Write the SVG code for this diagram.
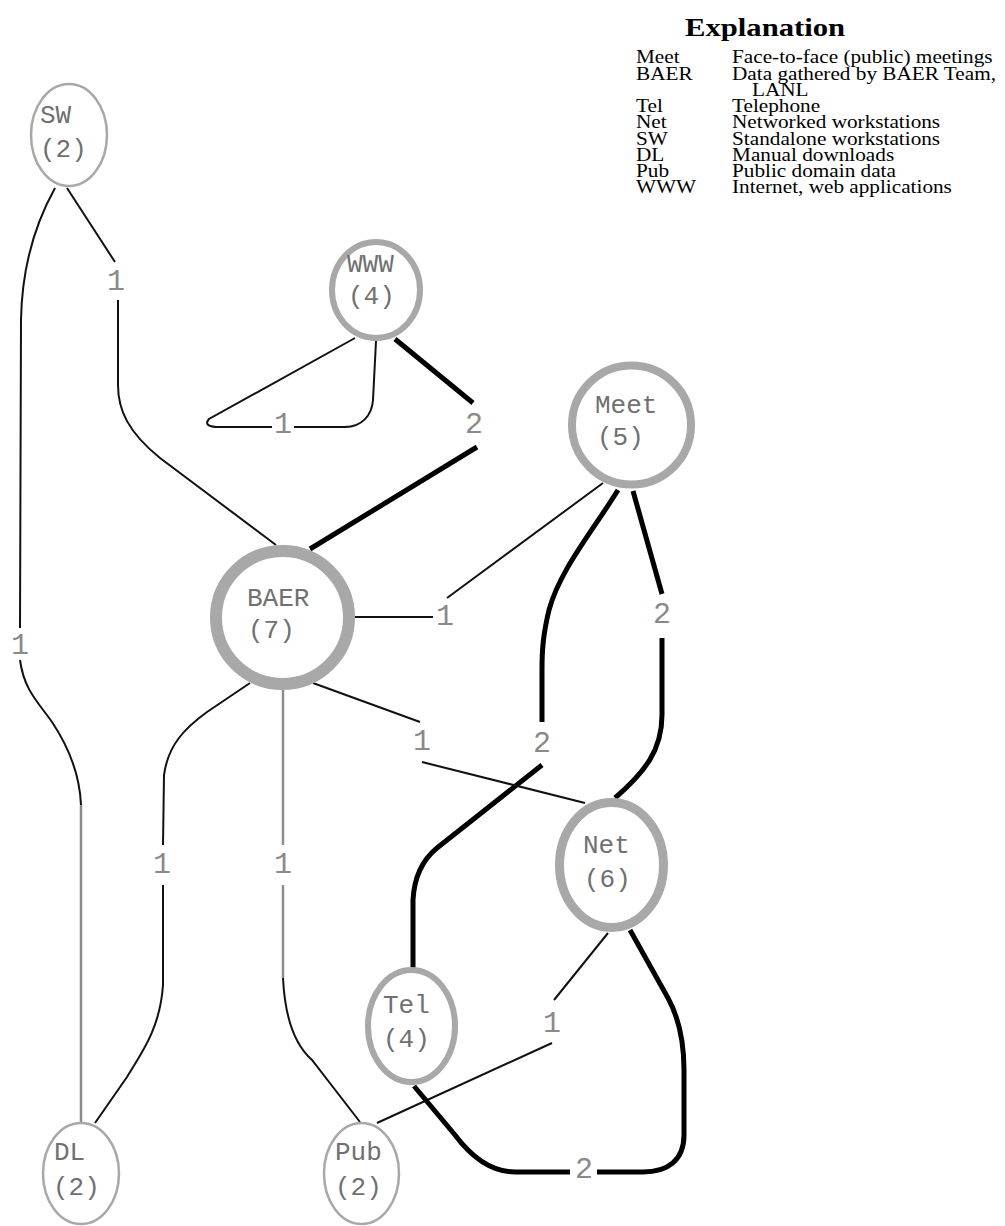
<svg xmlns="http://www.w3.org/2000/svg" width="1005" height="1226" viewBox="0 0 1005 1226">
<style>
.bg{fill:#ffffff}
.node{fill:#ffffff;stroke:#a8a8a8}
.nt{font-family:"Liberation Mono","DejaVu Sans Mono",monospace;font-size:26px;fill:#707070}
.lbl{font-family:"Liberation Mono","DejaVu Sans Mono",monospace;font-size:30px;fill:#8a8a8a;text-anchor:middle}
.e1{fill:none;stroke:#111;stroke-width:2}
.e1g{fill:none;stroke:#8c8c8c;stroke-width:2.5}
.e2{fill:none;stroke:#000;stroke-width:5}
.lg{font-family:"Liberation Serif","Times New Roman",serif;font-size:18px;fill:#000}
.lgt{font-family:"Liberation Serif","Times New Roman",serif;font-size:26px;font-weight:bold;fill:#000}
</style>
<rect class="bg" x="0" y="0" width="1005" height="1226"/>

<g id="connectors">
  <!-- SW - BAER -->
  <path class="e1" d="M67,188 L115,262"/>
  <path class="e1" d="M118,300 L118,385 C118,410 128,432 160,458 L276,545"/>
  <!-- SW - DL -->
  <path class="e1" d="M55,188 C40,215 22,260 21,320 L20,628"/>
  <path class="e1" d="M20,660 C24,690 38,702 52,722 C72,752 80,780 81,805"/>
  <path class="e1g" d="M81,805 L81,1122"/>
  <!-- WWW self loop -->
  <path class="e1" d="M355,338 L209,419 Q203,426 216,427 L272,427"/>
  <path class="e1" d="M294,427 L345,427 C362,427 372,415 373,400 L376,341"/>
  <!-- WWW - BAER -->
  <path class="e2" d="M395,339 L473,403"/>
  <path class="e2" d="M477,447 L310,549"/>
  <!-- Meet - BAER -->
  <path class="e1" d="M355,617 L433,617"/>
  <path class="e1" d="M447,598 L603,483"/>
  <!-- Meet - Net -->
  <path class="e2" d="M633,491 L662,594"/>
  <path class="e2" d="M662,638 L662,715 C662,750 645,772 615,798"/>
  <!-- Meet - Tel -->
  <path class="e2" d="M618,490 C590,535 560,570 549,610 C543,635 542,650 542,670 L542,722"/>
  <path class="e2" d="M542,765 L437,848 C420,862 414,880 413,900 L413,968"/>
  <!-- BAER - Net -->
  <path class="e1" d="M313,683 L420,722"/>
  <path class="e1" d="M422,762 L585,803"/>
  <!-- BAER - DL -->
  <path class="e1" d="M250,683 L207,712 C185,728 168,745 164,775 L163,845"/>
  <path class="e1" d="M163,885 L163,985 C160,1030 140,1055 127,1077 L95,1123"/>
  <!-- BAER - Pub -->
  <path class="e1g" d="M283,690 L283,845"/>
  <path class="e1g" d="M283,885 L283,978"/>
  <path class="e1" d="M283,978 C285,1020 295,1045 312,1060 L360,1122"/>
  <!-- Net - Pub -->
  <path class="e1" d="M608,933 L554,1000"/>
  <path class="e1" d="M552,1043 L377,1123"/>
  <!-- Net - Tel -->
  <path class="e2" d="M630,930 L668,998 C680,1020 684,1045 684,1070 L684,1135 C684,1160 668,1172 643,1172 L597,1172"/>
  <path class="e2" d="M570,1172 L515,1172 C490,1172 470,1155 455,1135 L414,1086"/>

  <!-- edge labels -->
  <text class="lbl" x="116" y="290">1</text>
  <text class="lbl" x="20" y="654">1</text>
  <text class="lbl" x="283" y="433">1</text>
  <text class="lbl" x="474" y="433">2</text>
  <text class="lbl" x="445" y="625">1</text>
  <text class="lbl" x="662" y="623">2</text>
  <text class="lbl" x="542" y="752">2</text>
  <text class="lbl" x="422" y="750">1</text>
  <text class="lbl" x="162" y="873">1</text>
  <text class="lbl" x="283" y="873">1</text>
  <text class="lbl" x="552" y="1032">1</text>
  <text class="lbl" x="584" y="1178">2</text>
</g>

<g id="node-SW">
  <ellipse class="node" cx="69" cy="135" rx="38" ry="51" stroke-width="2.5"/>
  <text class="nt" x="40" y="123">SW</text>
  <text class="nt" x="40" y="157">(2)</text>
</g>
<g id="node-WWW">
  <ellipse class="node" cx="376" cy="290" rx="44" ry="48" stroke-width="6"/>
  <text class="nt" x="347" y="272">WWW</text>
  <text class="nt" x="348" y="304">(4)</text>
</g>
<g id="node-Meet">
  <ellipse class="node" cx="631.5" cy="425" rx="59.5" ry="59.5" stroke-width="8"/>
  <text class="nt" x="595" y="413">Meet</text>
  <text class="nt" x="597" y="445">(5)</text>
</g>
<g id="node-BAER">
  <ellipse class="node" cx="282.5" cy="617.5" rx="66.5" ry="66.5" stroke-width="12"/>
  <text class="nt" x="247" y="606">BAER</text>
  <text class="nt" x="248" y="638">(7)</text>
</g>
<g id="node-Net">
  <ellipse class="node" cx="611.5" cy="865" rx="52" ry="62.5" stroke-width="9"/>
  <text class="nt" x="583" y="853">Net</text>
  <text class="nt" x="584" y="887">(6)</text>
</g>
<g id="node-Tel">
  <ellipse class="node" cx="411.5" cy="1026" rx="43.5" ry="56" stroke-width="6"/>
  <text class="nt" x="383" y="1013">Tel</text>
  <text class="nt" x="383" y="1047">(4)</text>
</g>
<g id="node-DL">
  <ellipse class="node" cx="81" cy="1173.5" rx="38" ry="50.5" stroke-width="2.5"/>
  <text class="nt" x="54" y="1160">DL</text>
  <text class="nt" x="53" y="1195">(2)</text>
</g>
<g id="node-Pub">
  <ellipse class="node" cx="361.5" cy="1173.5" rx="37.5" ry="50.5" stroke-width="2.5"/>
  <text class="nt" x="335" y="1160">Pub</text>
  <text class="nt" x="335" y="1195">(2)</text>
</g>

<g id="legend" transform="translate(636 0) scale(1.18 1)">
  <text class="lgt" x="41.5" y="36">Explanation</text>
  <text class="lg" x="0" y="63.5">Meet</text><text class="lg" x="81.4" y="63.5">Face-to-face (public) meetings</text>
  <text class="lg" x="0" y="79.75">BAER</text><text class="lg" x="81.4" y="79.75">Data gathered by BAER Team,</text>
  <text class="lg" x="98.3" y="96">LANL</text>
  <text class="lg" x="0" y="112.25">Tel</text><text class="lg" x="81.4" y="112.25">Telephone</text>
  <text class="lg" x="0" y="128.5">Net</text><text class="lg" x="81.4" y="128.5">Networked workstations</text>
  <text class="lg" x="0" y="144.75">SW</text><text class="lg" x="81.4" y="144.75">Standalone workstations</text>
  <text class="lg" x="0" y="161">DL</text><text class="lg" x="81.4" y="161">Manual downloads</text>
  <text class="lg" x="0" y="177.25">Pub</text><text class="lg" x="81.4" y="177.25">Public domain data</text>
  <text class="lg" x="0" y="193.5">WWW</text><text class="lg" x="81.4" y="193.5">Internet, web applications</text>
</g>
</svg>
